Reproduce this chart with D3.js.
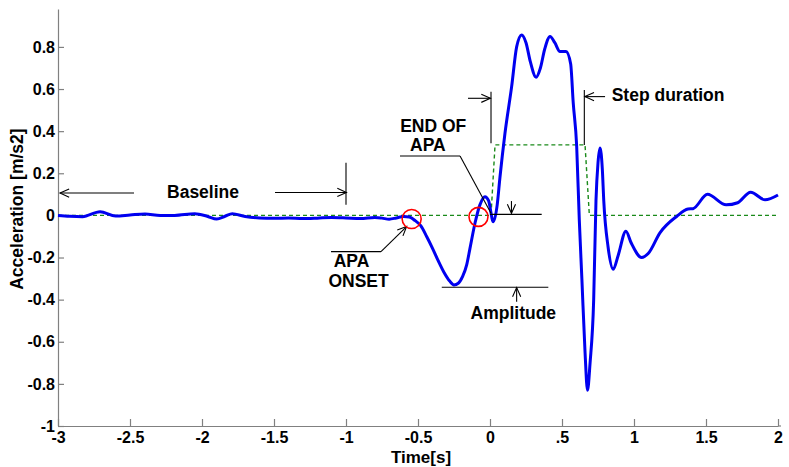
<!DOCTYPE html>
<html><head><meta charset="utf-8">
<script src="https://cdn.jsdelivr.net/npm/d3@7"></script>
<style>
html,body{margin:0;padding:0;background:#fff;}
text{font-family:"Liberation Sans",Arial,sans-serif;font-weight:bold;fill:#000;}
</style></head>
<body><svg id="c" width="789" height="467"></svg>
<script>
// ---- data ----
const accTime = [-3,-2.92,-2.83,-2.708,-2.6,-2.5,-2.396,-2.29,-2.19,-2.05,-1.96,-1.898,-1.84,-1.79,-1.7,-1.6,-1.5,-1.4,-1.3,-1.2,-1.1,-1.0,-0.9,-0.8,-0.75,-0.7,-0.65,-0.6,-0.56,-0.52,-0.48,-0.44,-0.4,-0.36,-0.32,-0.28,-0.25,-0.22,-0.19,-0.162,-0.14,-0.104,-0.07,-0.035,-0.01,0.023,0.05,0.069,0.104,0.15,0.185,0.22,0.25,0.28,0.32,0.35,0.38,0.417,0.45,0.486,0.528,0.56,0.578,0.602,0.62,0.638,0.66,0.677,0.695,0.72,0.736,0.75,0.764,0.78,0.79,0.82,0.856,0.89,0.944,0.98,1.053,1.1,1.18,1.296,1.375,1.41,1.51,1.64,1.72,1.81,1.91,2.0];
const accValue = [0,-0.004,-0.006,0.017,-0.003,0.002,0.007,0,0,0.008,-0.005,-0.017,-0.004,0.008,-0.005,-0.012,-0.014,-0.012,-0.015,-0.013,-0.01,-0.012,-0.015,-0.01,-0.013,-0.018,-0.012,-0.005,-0.008,-0.025,-0.05,-0.1,-0.155,-0.215,-0.27,-0.312,-0.33,-0.322,-0.29,-0.235,-0.16,-0.036,0.05,0.089,0.07,-0.03,0.05,0.18,0.39,0.61,0.80,0.857,0.82,0.73,0.656,0.70,0.79,0.85,0.82,0.778,0.778,0.72,0.534,0.327,-0.02,-0.3,-0.65,-0.83,-0.70,-0.4,0.07,0.25,0.32,0.22,0.07,-0.15,-0.256,-0.19,-0.075,-0.13,-0.2,-0.18,-0.083,-0.005,0.03,0.032,0.10,0.05,0.06,0.11,0.074,0.097];
const stepTime = [-3,0.007,0.035,0.66,0.69,2];
const stepValue = [0,0,0.335,0.335,0,0];
const xTickValues = [-3,-2.5,-2,-1.5,-1,-0.5,0,0.5,1,1.5,2];
const xTickLabels = ["-3","-2.5","-2","-1.5","-1","-0.5","0",".5","1","1.5","2"];
const yTickValues = [-1,-0.8,-0.6,-0.4,-0.2,0,0.2,0.4,0.6,0.8];
const yTickLabels = ["-1","-0.8","-0.6","-0.4","-0.2","0","0.2","0.4","0.6","0.8"];
const circlePoints = [[-0.544,-0.017],[-0.08,-0.007]];
// annotation texts in data units [text, t, v, anchor]
const annoTexts = [
  ["Baseline",-1.993,0.083,"middle"],
  ["APA",-0.962,-0.244,"middle"],
  ["ONSET",-0.913,-0.34,"middle"],
  ["END OF",-0.394,0.397,"middle"],
  ["APA",-0.431,0.306,"middle"],
  ["Amplitude",0.162,-0.492,"middle"],
  ["Step duration",0.845,0.543,"start"]
];
// plain lines [t1,v1,t2,v2]
const annoLines = [
  [-1.0,0.25,-1.0,0.05],
  [-1.104,-0.172,-0.757,-0.172],
  [-0.625,0.282,-0.208,0.282],
  [-0.208,0.282,0.007,0.01],
  [0.007,0.587,0.007,0.342],
  [0.0,0.005,0.359,0.005],
  [-0.335,-0.341,0.405,-0.341],
  [0.655,0.595,0.655,0.334]
];
// arrows [t1,v1,t2,v2] head at second point
const annoArrows = [
  [-2.472,0.106,-2.986,0.106],
  [-1.493,0.109,-0.997,0.109],
  [-0.757,-0.172,-0.579,-0.053],
  [-0.153,0.556,0.003,0.556],
  [0.149,0.068,0.149,0.01],
  [0.185,-0.41,0.185,-0.343],
  [0.799,0.564,0.659,0.564]
];

// ---- chart ----
const svg = d3.select("#c");
const x = d3.scaleLinear().domain([-3,2]).range([58,778]);
const y = d3.scaleLinear().domain([-1,0.98]).range([426,9]);
const axisColor = "#808080";

// axes
const gx = svg.append("g").attr("transform",`translate(0,${y(-1)})`)
  .call(d3.axisBottom(x).tickValues(xTickValues).tickFormat((d,i)=>xTickLabels[i]).tickSize(-7).tickSizeOuter(0).tickPadding(6));
const gy = svg.append("g").attr("transform",`translate(${x(-3)},0)`)
  .call(d3.axisLeft(y).tickValues(yTickValues).tickFormat((d,i)=>yTickLabels[i]).tickSize(-6).tickSizeOuter(0).tickPadding(3));
[gx,gy].forEach(g=>{
  g.selectAll("path,line").attr("stroke",axisColor).attr("stroke-width",1.2);
  g.selectAll("text").style("font-family","'Liberation Sans',Arial,sans-serif").style("font-weight","bold").style("font-size","16px").attr("fill","#000");
});
svg.append("line").attr("x1",x(2)).attr("x2",x(2)+3).attr("y1",y(-1)).attr("y2",y(-1)).attr("stroke",axisColor).attr("stroke-width",1.2);

// step (green dashed)
svg.append("path")
  .datum(stepTime.map((t,i)=>[t,stepValue[i]]))
  .attr("fill","none").attr("stroke","#1a8a1a").attr("stroke-width",1.4).attr("stroke-dasharray","4,3")
  .attr("d",d3.line().x(d=>x(d[0])).y(d=>y(d[1])));

// acceleration (blue)
svg.append("path")
  .datum(accTime.map((t,i)=>[t,accValue[i]]))
  .attr("fill","none").attr("stroke","#0000f0").attr("stroke-width",3).attr("stroke-linejoin","round")
  .attr("d",d3.line().curve(d3.curveMonotoneX).x(d=>x(d[0])).y(d=>y(d[1])));

// annotations
const ann = svg.append("g").attr("stroke","#000").attr("stroke-width",1.1).attr("fill","none");
annoLines.forEach(l=>{
  ann.append("line").attr("x1",x(l[0])).attr("y1",y(l[1])).attr("x2",x(l[2])).attr("y2",y(l[3]));
});
annoArrows.forEach(a=>{
  const x1=x(a[0]),y1=y(a[1]),x2=x(a[2]),y2=y(a[3]);
  ann.append("line").attr("x1",x1).attr("y1",y1).attr("x2",x2).attr("y2",y2);
  const ang=Math.atan2(y2-y1,x2-x1), L=10, W=0.42;
  const p1=[x2-L*Math.cos(ang-W),y2-L*Math.sin(ang-W)];
  const p2=[x2-L*Math.cos(ang+W),y2-L*Math.sin(ang+W)];
  ann.append("path").attr("d",`M${p1[0]},${p1[1]}L${x2},${y2}L${p2[0]},${p2[1]}`);
});
annoTexts.forEach(t=>{
  svg.append("text").attr("x",x(t[1])).attr("y",y(t[2])).attr("text-anchor",t[3])
    .style("font-size","17.5px").text(t[0]);
});
// red circles
circlePoints.forEach(p=>{
  svg.append("circle").attr("cx",x(p[0])).attr("cy",y(p[1])).attr("r",9.5)
    .attr("fill","none").attr("stroke","#ff0000").attr("stroke-width",1.6);
});

// axis titles
svg.append("text").attr("x",(x(-3)+x(2))/2+3).attr("y",463).attr("text-anchor","middle")
  .style("font-size","17px").text("Time[s]");
svg.append("text").attr("transform",`translate(23,${y(0.03)}) rotate(-90)`).attr("text-anchor","middle")
  .style("font-size","17.5px").text("Acceleration [m/s2]");
</script></body></html>
